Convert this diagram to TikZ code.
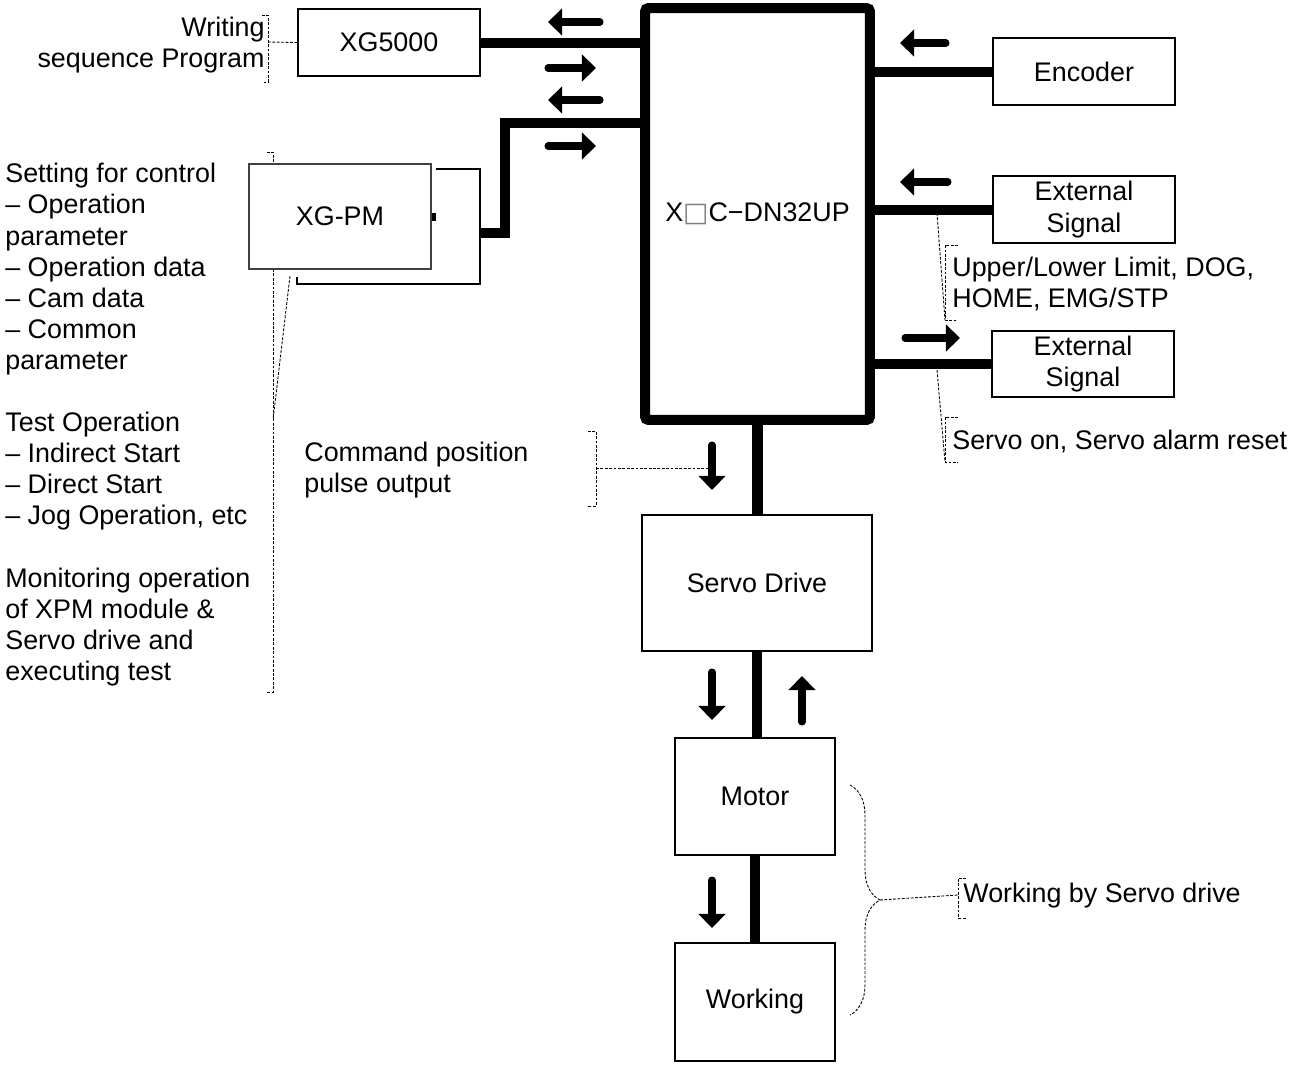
\documentclass[tikz,border=0pt]{standalone}
\usepackage{fontspec}
\setmainfont{Liberation Sans}
\newfontfamily\boxglyph{DejaVu Sans}
\usetikzlibrary{arrows.meta,calc,decorations.pathreplacing}

\begin{document}
\begin{tikzpicture}[x=0.02cm, y=-0.02cm,
    font=\fontsize{15.3}{17.7}\selectfont,
    box/.style={draw, line width=1.2pt, fill=white, inner sep=0pt, align=center},
    bus/.style={line width=5.7pt},
    dirarrow/.style={line width=4pt, line cap=round, -{Triangle[length=8pt,width=15pt]}},
    note/.style={line width=0.5pt, dash pattern=on 1.6pt off 0.9pt},
    txt/.style={inner sep=0pt}]
    \useasboundingbox (0,0) rectangle (1289,1066);

    % 左侧说明的虚线括号
    \draw[note] (267,152) -- (273,152) -- (273,692) -- (267,692);

    % 中间的定位模块
    \node[draw, line width=5.7pt, rounded corners=2pt, minimum width=4.5cm, minimum height=8.24cm] (Main) at (757.5,214) {X\textcolor{gray}{\boxglyph □}C−DN32UP};

    % 上位软件
    \node[box, minimum width=3.64cm, minimum height=1.34cm] (XG) at (389,42.5) {XG5000};
    \node[box, draw=black!75, minimum width=3.64cm, minimum height=2.1cm] (PM) at (340,216.5) {XG-PM};
    \draw[line width=0.8pt] ($(PM.north east)+(4,6)$) -| ($(PM.south east)+(48,14)$) -| ($(PM.south west)+(49,7)$);
    \fill ($(PM.east)+(0,-4)$) rectangle ++(4,8);

    % 外部设备
    \node[box, minimum width=3.64cm, minimum height=1.34cm] (Enc) at (1084,71.5) {Encoder};
    \node[box, minimum width=3.64cm, minimum height=1.34cm] (ExtA) at (1084,209.5) {External\\ Signal};
    \node[box, minimum width=3.64cm, minimum height=1.32cm] (ExtB) at (1083,364) {External\\ Signal};

    % 驱动链
    \node[box, minimum width=4.6cm, minimum height=2.72cm] (Servo) at (757,583) {Servo Drive};
    \node[box, minimum width=3.2cm, minimum height=2.34cm] (Motor) at (755,796.5) {Motor};
    \node[box, minimum width=3.2cm, minimum height=2.36cm] (Work) at (755,1002) {Working};

    % 粗连线
    \draw[bus] (XG.east) -- (XG.east -| Main.west);
    \coordinate (PMport) at (481,233);
    \coordinate (PMbend) at (505,123);
    \draw[bus, line join=miter] (PMport) -| (PMbend) -- (PMbend -| Main.west);
    \draw[bus] (Enc.west -| Main.east) -- (Enc.west);
    \draw[bus] (ExtA.west -| Main.east) -- (ExtA.west);
    \draw[bus] (ExtB.west -| Main.east) -- (ExtB.west);
    \draw[bus] (Main.south) -- (Main.south |- Servo.north);
    \draw[bus] (Servo.south) -- (Servo.south |- Motor.north);
    \draw[bus] (Motor.south) -- (Work.north);

    % 信号方向箭头
    \draw[dirarrow] (600,22) -- (548,22);
    \draw[dirarrow] (548,68) -- (596,68);
    \draw[dirarrow] (600,100) -- (548,100);
    \draw[dirarrow] (548,146) -- (596,146);
    \draw[dirarrow] (946,43) -- (900,43);
    \draw[dirarrow] (948,182) -- (900,182);
    \draw[dirarrow] (905,338) -- (960,338);
    \draw[dirarrow] (712,445) -- (712,490);
    \draw[dirarrow] (712,672) -- (712,720);
    \draw[dirarrow] (802,722) -- (802,676);
    \draw[dirarrow] (712,880) -- (712,928);

    % 说明文字
    \node[txt, anchor=east, align=right] (WrText) at (265,45) {Writing\\ sequence Program};
    \draw[note] (262,15) -- (268,15) -- (268,82) -- (262,82);
    \draw[note] (268,42) -- (XG.west);

    \node[txt, anchor=north west, align=left] (PMText) at (5,163) {Setting for control\\ – Operation\\ parameter\\ – Operation data\\ – Cam data\\ – Common\\ parameter\\[17.7pt] Test Operation\\ – Indirect Start\\ – Direct Start\\ – Jog Operation, etc\\[17.7pt] Monitoring operation\\ of XPM module \&\\ Servo drive and\\ executing test};
    \draw[note] (290,276) -- (273,420);

    \node[txt, anchor=west, align=left] (LimText) at (952,284) {Upper/Lower Limit, DOG,\\ HOME, EMG/STP};
    \draw[note] (937,213) -- (945,320);
    \draw[note] (958,245) -- (945,245) -- (945,320) -- (958,320);

    \node[txt, anchor=west] (SvText) at (952,441) {Servo on, Servo alarm reset};
    \draw[note] (937,370) -- (945,462);
    \draw[note] (958,417) -- (945,417) -- (945,462) -- (958,462);

    \node[txt, anchor=west, align=left] (CmdText) at (304,470) {Command position\\ pulse output};
    \draw[note] (588,431) -- (596,431) -- (596,506) -- (588,506);
    \draw[note] (596,468) -- (708,468);

    \coordinate (WTip) at (880,900);
    \draw[note, decorate, decoration={brace, amplitude=0.6cm}] (850,785) -- (850,1015);
    \node[txt, anchor=west] (WkText) at (963,896) {Working by Servo drive};
    \draw[note] (WTip) -- (958,895);
    \draw[note] (966,878) -- (958,878) -- (958,918) -- (966,918);
\end{tikzpicture}
\end{document}
